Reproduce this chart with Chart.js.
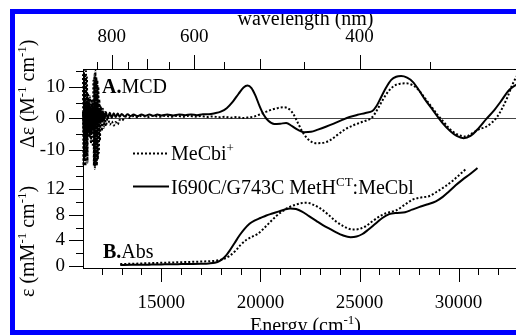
<!DOCTYPE html>
<html><head><meta charset="utf-8">
<script src="https://cdn.jsdelivr.net/npm/chart.js@4.4.1/dist/chart.umd.min.js"></script>
<style>
html,body{margin:0;padding:0;background:#fff;overflow:hidden;width:516px;height:335px;}
#c{position:absolute;left:0;top:0;width:528px;height:335px;}
#frame{position:absolute;left:10px;top:9px;width:700px;height:326px;box-sizing:border-box;border:5px solid #0000ff;pointer-events:none;}
</style></head><body>
<canvas id="c" width="528" height="335"></canvas>
<div id="frame"></div>
<script>
// ---------------- DATA ----------------
// MCD, MeCbi+ (dotted)
const mcdCbiE = [11050,11075,11100,11125,11150,11175,11200,11225,11250,11275,11300,11350,11400,11450,11500,11550,11575,11600,11625,11650,11675,11700,11725,11750,11775,11800,11825,11850,11875,11900,11950,12000,12050,12100,12150,12200,12300,12400,12500,12600,12700,12800,12900,13000,13200,13400,13600,13800,14000,14300,14600,14900,15200,15500,15800,16100,16400,16700,17000,17300,17600,17900,18200,18500,18800,19100,19400,19700,20000,20300,20600,20900,21200,21450,21650,21900,22150,22450,22800,23150,23500,23900,24300,24700,25150,25650,25900,26150,26450,26750,27050,27350,27650,27950,28300,28650,28950,29250,29550,29900,30350,30750,31050,31350,31650,31950,32200,32450,32700,32950,33200];
const mcdCbiV = [14,-15,15,-13,14,-15,15,-12,13,-14,8,-6,7,-8,6,-9,12,-15,14,-16,15,-14,13,-15,12,-13,10,-11,6,-7,4,-4,3,-3,2,-2.5,0.5,-2,-1,-2.3,-1.2,-2,-0.5,-0.8,0.5,0.1,0.7,0.3,0.8,0.4,0.8,0.5,0.8,0.5,0.8,0.5,0.8,0.5,0.7,0.4,0.6,0.3,0.5,0.2,0.4,0.1,0.3,0.6,1.3,2.1,2.8,3.3,3.5,2.9,1.5,-1.6,-4.6,-6.9,-7.9,-7.8,-7.0,-5.2,-3.4,-2.2,-1.1,0.4,2.8,5.6,8.5,10.3,11.0,11.1,10.6,9.2,6.4,3.5,1.0,-1.2,-3.4,-5.0,-5.8,-4.5,-3.4,-2.8,-1.5,0.5,3.2,6.5,10.5,13.5,15.3];
// MCD, I690C/G743C MetH(CT):MeCbl (solid)
const mcdMutE = [11050,11100,11150,11200,11250,11300,11350,11400,11450,11500,11550,11600,11650,11700,11750,11800,11850,11900,11950,12000,12050,12100,12200,12300,12400,12500,12600,12700,12800,12900,13000,13150,13300,13450,13600,13800,14000,14200,14400,14600,14800,15000,15300,15600,15900,16200,16500,16800,17100,17400,17700,18000,18300,18600,18900,19150,19350,19550,19750,19950,20150,20400,20700,21000,21300,21600,21900,22200,22550,22900,23300,23700,24100,24500,24900,25300,25650,25850,26050,26300,26600,26850,27100,27400,27700,28000,28300,28700,29200,29600,29900,30250,30600,31000,31400,31800,32100,32550,32900,33200,33450];
const mcdMutV = [2,-6,6,-7,5,-5,6,-6,4,-5,5,-4,4,-3,3.5,-2.5,3,-1.5,2.5,-1,2.2,-0.5,2,0,1.8,0.2,1.6,0.4,1.5,0.5,1.4,0.6,1.3,0.7,1.2,0.7,1.2,0.8,1.2,0.8,1.2,0.9,1.2,0.9,1.2,1.0,1.2,1.0,1.3,1.3,1.6,2.1,3.2,5.2,7.8,9.8,10.4,9.6,7.2,4.0,1.3,-0.8,-1.8,-1.7,-1.5,-2.5,-3.7,-4.4,-4.3,-3.6,-2.7,-1.7,-0.6,0.4,1.1,1.7,2.3,3.8,6.2,9.3,12.2,13.2,13.4,12.9,11.5,8.9,6.0,2.6,-1.6,-4.2,-5.6,-6.3,-5.6,-3.2,-0.2,2.6,5.1,9.0,10.6,11.5,12.2];
// Abs, MeCbi+ (dotted)
const absCbiE = [12930,13500,14000,14500,15000,15500,16000,16500,17000,17400,17800,18150,18450,18750,19000,19300,19600,19850,20150,20450,20800,21130,21450,21800,22100,22350,22650,22970,23400,23800,24200,24650,25000,25300,25700,26150,26500,26850,27250,27700,28100,28500,28900,29350,29650,29950,30350];
const absCbiV = [0.3,0.35,0.4,0.45,0.5,0.55,0.6,0.65,0.7,0.75,0.85,1.1,1.6,2.4,3.3,4.1,4.6,5.0,5.8,6.75,7.8,8.6,9.2,9.6,9.85,9.9,9.6,9.1,8.1,7.0,6.2,5.7,5.8,6.2,7.1,8.0,8.4,8.7,9.5,10.4,10.7,10.9,11.6,12.5,13.2,14.0,15.1];
// Abs, I690C/G743C MetH(CT):MeCbl (solid)
const absMutE = [12930,13500,14000,14500,15000,15500,16000,16500,17000,17400,17700,17950,18200,18450,18700,18950,19200,19450,19700,20000,20300,20600,20900,21200,21500,21800,22100,22450,22800,23150,23500,23800,24150,24550,24850,25150,25450,25800,26150,26500,26900,27300,27650,28000,28400,28850,29200,29500,29850,30200,30550,30950];
const absMutV = [0.15,0.2,0.2,0.22,0.25,0.28,0.3,0.32,0.35,0.4,0.5,0.8,1.4,2.4,3.6,4.8,5.8,6.6,7.1,7.5,7.9,8.2,8.5,8.8,9.0,8.9,8.5,7.8,7.1,6.4,5.8,5.3,4.8,4.5,4.6,5.0,5.7,6.6,7.5,8.1,8.3,8.4,8.8,9.2,9.6,10.1,10.8,11.6,12.6,13.5,14.3,15.3];

const seriesNames = ['MeCbi', 'I690C/G743C MetH'];
// Tick values and labels
const energyTicks = [12000,13000,14000,15000,16000,17000,18000,19000,20000,21000,22000,23000,24000,25000,26000,27000,28000,29000,30000,31000,32000,33000];
const energyLabels = [15000,20000,25000,30000];
const wavelengthTicks = [850,800,750,700,650,600,550,500,450,400,350,300];
const wavelengthLabels = [800,600,400];
const wavelengthMedium = [700,500,300];
const mcdTicks = [-15,-10,-5,0,5,10,15];
const mcdLabels = [-10,0,10];
const absTicks = [0,2,4,6,8,10,12,14];
const absLabels = [0,4,8,12];

// ---------------- CHART ----------------
const SERIF = "'Liberation Serif','Times New Roman',serif";
Chart.defaults.color = '#000';
Chart.defaults.font.family = SERIF;

const pts = (E, V) => E.map((e, i) => ({x: e, y: V[i]}));
const dotted = [2, 2];
const CLEAR = 'rgba(0,0,0,0)';

function rich(ctx, parts, x, y, align) {
  const fontOf = p => (p.bold ? 'bold ' : '') + (p.sup ? 13 : 20) + 'px ' + SERIF;
  const w = parts.map(p => { ctx.font = fontOf(p); return ctx.measureText(p.t).width; });
  const total = w.reduce((a, b) => a + b, 0);
  let cx = align === 'center' ? x - total / 2 : x;
  ctx.textBaseline = 'alphabetic';
  ctx.textAlign = 'left';
  parts.forEach((p, i) => { ctx.font = fontOf(p); ctx.fillText(p.t, cx, p.sup ? y - 8 : y); cx += w[i]; });
}

const decor = {
  id: 'decor',
  afterDraw(chart) {
    const ctx = chart.ctx;
    const s = chart.scales;
    ctx.save();
    ctx.strokeStyle = '#000';
    ctx.fillStyle = '#000';
    ctx.lineWidth = 1;
    // tick marks
    ctx.beginPath();
    s.x.ticks.forEach(t => {
      const px = Math.round(s.x.getPixelForValue(t.value)) + 0.5;
      const len = energyLabels.includes(t.value) ? 14 : 7;
      ctx.moveTo(px, s.x.top); ctx.lineTo(px, s.x.top + len);
    });
    s.x2.ticks.forEach(t => {
      const px = Math.round(s.x2.getPixelForValue(t.value)) + 0.5;
      const l = Math.round(1e7 / t.value);
      const len = wavelengthLabels.includes(l) ? 14 : (wavelengthMedium.includes(l) ? 10 : 7);
      ctx.moveTo(px, s.x2.bottom); ctx.lineTo(px, s.x2.bottom - len);
    });
    [['yA', mcdLabels], ['yB', absLabels]].forEach(([id, labs]) => {
      const sc = s[id];
      sc.ticks.forEach(t => {
        const py = Math.round(sc.getPixelForValue(t.value)) + 0.5;
        const len = labs.includes(t.value) ? 14 : 7;
        ctx.moveTo(sc.right, py); ctx.lineTo(sc.right - len, py);
      });
    });
    ctx.stroke();

    // axis titles
    const ca = chart.chartArea;
    rich(ctx, [{t: 'Energy (cm'}, {t: '-1', sup: true}, {t: ')'}], (ca.left + ca.right) / 2, 332, 'center');
    ctx.save(); ctx.translate(34, 148); ctx.rotate(-Math.PI / 2);
    rich(ctx, [{t: 'Δε (M'}, {t: '-1', sup: true}, {t: ' cm'}, {t: '-1', sup: true}, {t: ')'}], 0, 0, 'left');
    ctx.restore();
    ctx.save(); ctx.translate(34, 297); ctx.rotate(-Math.PI / 2);
    rich(ctx, [{t: 'ε (mM'}, {t: '-1', sup: true}, {t: ' cm'}, {t: '-1', sup: true}, {t: ')'}], 0, 0, 'left');
    ctx.restore();

    // panel labels
    rich(ctx, [{t: 'A.', bold: true}, {t: 'MCD'}], 102, 93, 'left');
    rich(ctx, [{t: 'B.', bold: true}, {t: 'Abs'}], 103, 258, 'left');

    // legend
    const ds = chart.data.datasets;
    [[0, 153.5, 160, [{t: seriesNames[0]}, {t: '+', sup: true}]],
     [1, 186.5, 194, [{t: seriesNames[1]}, {t: 'CT', sup: true}, {t: ':MeCbl'}]]].forEach(([i, ly, ty, parts]) => {
      ctx.save();
      ctx.lineWidth = ds[i].borderWidth;
      ctx.setLineDash(ds[i].borderDash || []);
      ctx.beginPath(); ctx.moveTo(133, ly); ctx.lineTo(169, ly); ctx.stroke();
      ctx.restore();
      rich(ctx, parts, 171, ty, 'left');
    });
    ctx.restore();
  }
};

const tickFont = {family: SERIF, size: 19};

new Chart(document.getElementById('c'), {
  type: 'line',
  data: {
    datasets: [
      {label: 'MeCbi+ MCD', data: pts(mcdCbiE, mcdCbiV), yAxisID: 'yA', xAxisID: 'x', borderColor: '#000', borderWidth: 2, borderDash: dotted, pointRadius: 0, cubicInterpolationMode: 'monotone', clip: false},
      {label: 'I690C/G743C MetHCT:MeCbl MCD', data: pts(mcdMutE, mcdMutV), yAxisID: 'yA', xAxisID: 'x', borderColor: '#000', borderWidth: 2, pointRadius: 0, cubicInterpolationMode: 'monotone', clip: false},
      {label: 'MeCbi+ Abs', data: pts(absCbiE, absCbiV), yAxisID: 'yB', xAxisID: 'x', borderColor: '#000', borderWidth: 2, borderDash: dotted, pointRadius: 0, cubicInterpolationMode: 'monotone', clip: false},
      {label: 'I690C/G743C MetHCT:MeCbl Abs', data: pts(absMutE, absMutV), yAxisID: 'yB', xAxisID: 'x', borderColor: '#000', borderWidth: 2, pointRadius: 0, cubicInterpolationMode: 'monotone', clip: false}
    ]
  },
  options: {
    responsive: false,
    maintainAspectRatio: false,
    devicePixelRatio: 1,
    animation: false,
    events: [],
    layout: {padding: 0, autoPadding: false},
    plugins: {legend: {display: false}, tooltip: {enabled: false}},
    scales: {
      x: {
        type: 'linear', position: 'bottom', min: 11050, max: 33500,
        afterBuildTicks: sc => { sc.ticks = energyTicks.map(v => ({value: v})); },
        afterFit: sc => { sc.height = 67; sc.paddingLeft = 0; sc.paddingRight = 0; },
        grid: {display: false, drawTicks: true, tickLength: 24, tickColor: CLEAR},
        border: {display: true, color: '#000', width: 1},
        ticks: {font: tickFont, padding: 0, autoSkip: false, maxRotation: 0,
          callback: v => energyLabels.includes(v) ? String(v) : ''}
      },
      x2: {
        type: 'linear', position: 'top', min: 11050, max: 33500,
        afterBuildTicks: sc => { sc.ticks = wavelengthTicks.map(l => ({value: 1e7 / l})); },
        afterFit: sc => { sc.height = 69; sc.paddingLeft = 0; sc.paddingRight = 0; },
        grid: {display: false, drawTicks: true, tickLength: 21, tickColor: CLEAR},
        border: {display: true, color: '#000', width: 1},
        title: {display: true, text: 'wavelength (nm)', font: {family: SERIF, size: 20}, padding: {top: 8, bottom: 0}},
        ticks: {font: tickFont, padding: 0, autoSkip: false, maxRotation: 0,
          callback: v => { const l = Math.round(1e7 / v); return wavelengthLabels.includes(l) ? String(l) : ''; }}
      },
      yA: {
        type: 'linear', position: 'left', stack: 'v', stackWeight: 101, weight: 2,
        min: -16.41, max: 15.65,
        afterBuildTicks: sc => { sc.ticks = mcdTicks.map(v => ({value: v})); },
        afterFit: sc => { sc.width = 83; sc.paddingTop = 0; sc.paddingBottom = 0; },
        grid: {display: true, drawTicks: true, tickLength: 18, tickColor: CLEAR, lineWidth: 1,
          color: c => (c.tick && c.tick.value === 0) ? '#444' : CLEAR},
        border: {display: true, color: '#000', width: 1},
        ticks: {font: tickFont, padding: 0, autoSkip: false,
          callback: v => mcdLabels.includes(v) ? String(v) : ''}
      },
      yB: {
        type: 'linear', position: 'left', stack: 'v', stackWeight: 98, weight: 1,
        min: -0.31, max: 15.0,
        afterBuildTicks: sc => { sc.ticks = absTicks.map(v => ({value: v})); },
        afterFit: sc => { sc.width = 83; sc.paddingTop = 0; sc.paddingBottom = 0; },
        grid: {display: false, drawTicks: true, tickLength: 18, tickColor: CLEAR},
        border: {display: true, color: '#000', width: 1},
        ticks: {font: tickFont, padding: 0, autoSkip: false,
          callback: v => absLabels.includes(v) ? String(v) : ''}
      }
    }
  },
  plugins: [decor]
});
</script></body></html>
